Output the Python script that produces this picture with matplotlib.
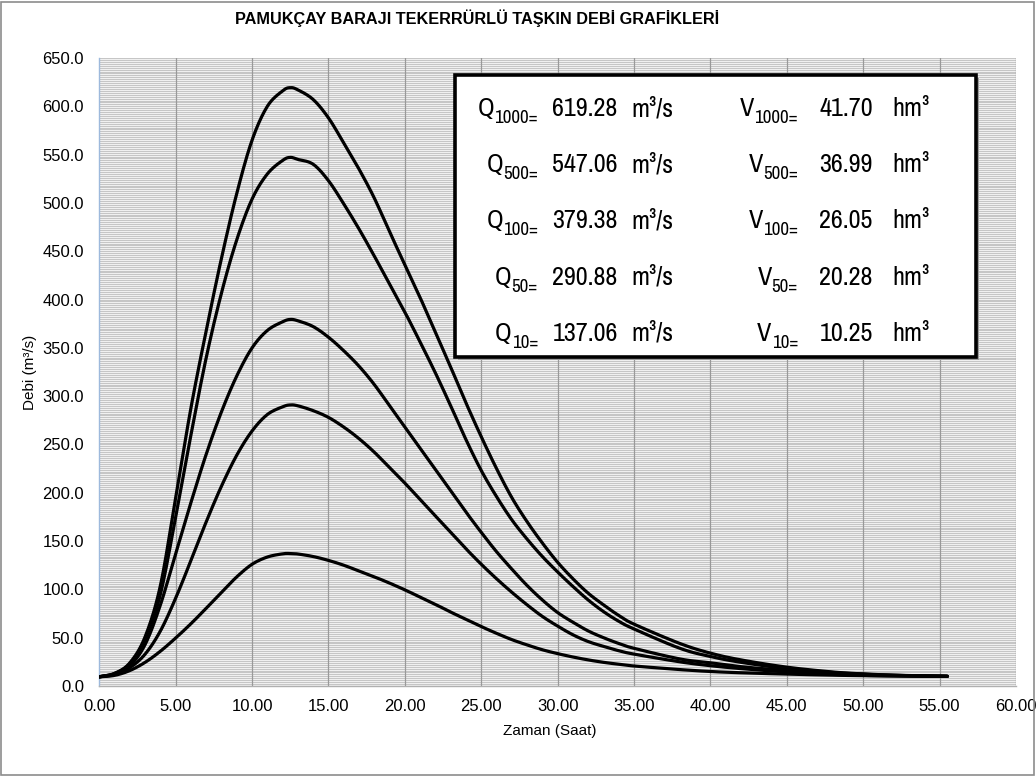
import matplotlib
matplotlib.use("Agg")
import matplotlib.pyplot as plt
from matplotlib import font_manager as fm
from matplotlib.font_manager import FontProperties
from matplotlib.patches import Rectangle
import numpy as np

# ---------------- data ----------------
time_h = [0, 1, 2, 3, 4, 5, 6, 7, 8, 9, 10, 11, 12, 12.5, 13, 14, 15, 16, 17, 18, 19,
          20, 21, 22, 23, 24, 25, 26, 27, 28, 29, 30, 31, 32, 33, 34, 35,
          38, 40, 42, 45, 48, 50, 52, 55.5]

q1000 = [9.5, 13, 24, 51, 104, 195, 288, 368, 443, 510, 565, 600, 616, 619.3, 617, 607, 588,
         562, 535, 505, 470, 436, 402, 366, 330, 293, 258, 225, 195, 170, 148, 128,
         111, 96, 84, 73, 64,
         44, 34, 27, 19.5, 14.5, 12.5, 11.2, 10]
q500 = [9.5, 13, 23, 47, 95, 175, 260, 340, 407, 462, 504, 530, 544, 547.1, 545, 540, 523,
        499, 473, 445, 416, 387, 356, 324, 290, 255, 223, 196, 172, 152, 134, 118,
        103, 89, 77, 67, 59,
        39, 30.5, 24.5, 18, 14, 12.2, 11, 10]
q100 = [9.5, 12.5, 21, 43, 84, 137, 190, 240, 284, 321, 350, 368, 377, 379.4, 378, 372, 361,
        347, 331, 312, 290, 268, 246, 224, 202, 180, 159, 139, 121, 104, 89, 76,
        66, 57, 50, 44, 39,
        28, 24, 20, 16, 13, 12, 11, 10]
q50 = [9.5, 12, 19, 33, 57, 91, 130, 170, 207, 239, 264, 281, 289, 290.9, 290, 285, 278,
       268, 256, 242, 226, 210, 193, 176, 159, 142, 126, 111, 97, 84, 72, 62,
       53, 46, 41, 36.5, 33,
       25, 21, 18, 14.5, 12, 11, 10.5, 10]
q10 = [9.5, 11, 16, 24.5, 36, 49.7, 64.5, 80.5, 97, 113, 126, 133.5, 136.8, 137.1, 136.6, 134, 130,
       125, 119, 113, 106.5, 99.5, 92, 84.5, 76.5, 69, 61.5, 54.5, 48, 42.5, 37.5, 33.5,
       30, 27, 24.5, 22.5, 20.7,
       17, 15, 13.7, 12.3, 11.2, 10.7, 10.3, 10]

series = [q1000, q500, q100, q50, q10]

box_q_sub = ["1000", "500", "100", "50", "10"]
box_q_val = ["619.28", "547.06", "379.38", "290.88", "137.06"]
box_v_val = ["41.70", "36.99", "26.05", "20.28", "10.25"]

title = "PAMUKÇAY BARAJI TEKERRÜRLÜ TAŞKIN DEBİ GRAFİKLERİ"
xlabel = "Zaman (Saat)"
ylabel = "Debi (m³/s)"

# ---------------- fonts ----------------
names = {f.name for f in fm.fontManager.ttflist}
base_font = "Liberation Sans" if "Liberation Sans" in names else "DejaVu Sans"
plt.rcParams["font.family"] = [base_font, "DejaVu Sans"]

stretch_rank = {"ultra-condensed": 0, "extra-condensed": 1, "condensed": 2, "semi-condensed": 3}
cands = []
for f in fm.fontManager.ttflist:
    st = str(f.stretch)
    if st in stretch_rank and f.style == "normal" and f.weight in (400, "normal", "regular", "book"):
        if "CJK" in f.name or "Mono" in f.name or "Serif" in f.name:
            continue
        cands.append((stretch_rank[st], f.name, f.fname))
cands.sort()
if cands:
    box_fp = FontProperties(fname=cands[0][2])
else:
    box_fp = FontProperties(family=base_font)

W, H = 1036, 776
fig = plt.figure(figsize=(W / 100, H / 100), dpi=100)
fig.patch.set_facecolor("white")
renderer = fig.canvas.get_renderer()


def text_width(s, size):
    t = fig.text(0, 0, s, fontproperties=box_fp, fontsize=size)
    w = t.get_window_extent(renderer).width
    t.remove()
    return w


# choose box font size so the numbers are about as wide as in the reference
box_size = 20 * 66 / text_width("619.28", 20)
box_size = min(box_size, 26)
sub_size = box_size * 0.72

# outer chart border
fig.patches.append(Rectangle((1 / W, 1 / H), (W - 3) / W, (H - 3) / H, transform=fig.transFigure,
                             fill=False, edgecolor="#8c8c8c", linewidth=1.2, zorder=0))

ax_l, ax_r, ax_t, ax_b = 99.3, 1016, 58, 686
ax = fig.add_axes([ax_l / W, 1 - ax_b / H, (ax_r - ax_l) / W, (ax_b - ax_t) / H])
ax.set_facecolor("#f0f0f0")
ax.set_xlim(0, 60)
ax.set_ylim(0, 650)

# gridlines
for yv in np.arange(2, 651, 2):
    ax.axhline(yv, color="#bababa", lw=0.55, zorder=1)
for xv in np.arange(5, 61, 5):
    ax.axvline(xv, color="#999999", lw=0.9, zorder=1.5)


def smooth(xs, ys, n=16):
    """Catmull-Rom rendering of the points (like a smoothed spreadsheet line)."""
    x = np.asarray(xs, float)
    y = np.asarray(ys, float)
    px = np.concatenate([[2 * x[0] - x[1]], x, [2 * x[-1] - x[-2]]])
    py = np.concatenate([[2 * y[0] - y[1]], y, [2 * y[-1] - y[-2]]])
    ox, oy = [], []
    tt = np.linspace(0, 1, n, endpoint=False)
    for i in range(1, len(px) - 2):
        for arr, out in ((px, ox), (py, oy)):
            p0, p1, p2, p3 = arr[i - 1], arr[i], arr[i + 1], arr[i + 2]
            out.extend(0.5 * ((2 * p1) + (-p0 + p2) * tt + (2 * p0 - 5 * p1 + 4 * p2 - p3) * tt ** 2
                              + (-p0 + 3 * p1 - 3 * p2 + p3) * tt ** 3))
    ox.append(x[-1])
    oy.append(y[-1])
    return np.array(ox), np.array(oy)


for q in series:
    sx, sy = smooth(time_h, q)
    ax.plot(sx, sy, color="black", lw=2.3, solid_joinstyle="round",
            solid_capstyle="round", zorder=3)

ax.set_xticks(np.arange(0, 61, 5))
ax.set_xticklabels([f"{v:.2f}" for v in np.arange(0, 61, 5)])
ax.set_yticks(np.arange(0, 651, 50))
ax.set_yticklabels([f"{v:.1f}" for v in np.arange(0, 651, 50)])
ax.tick_params(axis="both", length=0, labelsize=12, colors="black")
ax.tick_params(axis="x", pad=9.5)
ax.tick_params(axis="y", pad=11)
for s in ("top", "right"):
    ax.spines[s].set_visible(False)
ax.spines["left"].set_color("#9db9dc")
ax.spines["left"].set_linewidth(1.0)
ax.spines["bottom"].set_color("#b0b0b0")
ax.spines["bottom"].set_linewidth(1.0)

fig.text(477 / W, 1 - 18 / H, title, ha="center", va="center", fontsize=11.7, fontweight="bold")
fig.text(550 / W, 1 - 731 / H, xlabel, ha="center", va="center", fontsize=11)
fig.text(30 / W, 1 - 372 / H, ylabel, ha="center", va="center", fontsize=11, rotation=90)

# ---------------- info box ----------------
bx0, bx1, by0, by1 = 455, 976, 75, 357
fig.patches.append(Rectangle(((bx0 + 3) / W, 1 - (by1 + 3) / H), (bx1 - bx0) / W, (by1 - by0) / H,
                             transform=fig.transFigure, facecolor="#9a9a9a", edgecolor="none",
                             zorder=4))
fig.patches.append(Rectangle((bx0 / W, 1 - by1 / H), (bx1 - bx0) / W, (by1 - by0) / H,
                             transform=fig.transFigure, facecolor="white", edgecolor="black",
                             linewidth=2.6, zorder=5))


def sub_label(x_right, y_base, main, sub):
    ws = text_width(sub, sub_size)
    fig.text(x_right / W, 1 - (y_base + 7) / H, sub, ha="right", va="baseline",
             fontproperties=box_fp, fontsize=sub_size, zorder=6)
    fig.text((x_right - ws) / W, 1 - y_base / H, main, ha="right", va="baseline",
             fontproperties=box_fp, fontsize=box_size, zorder=6)


row_y = [116, 172, 228, 285, 341]  # baseline pixel rows
for i in range(5):
    yb = 1 - row_y[i] / H
    sub_label(538, row_y[i], "Q", box_q_sub[i] + "=")
    fig.text(585 / W, yb, box_q_val[i], ha="center", va="baseline", fontproperties=box_fp,
             fontsize=box_size, zorder=6)
    fig.text(631 / W, yb, "m³/s", ha="left", va="baseline", fontproperties=box_fp,
             fontsize=box_size, zorder=6)
    sub_label(798, row_y[i], "V", box_q_sub[i] + "=")
    fig.text(846 / W, yb, box_v_val[i], ha="center", va="baseline", fontproperties=box_fp,
             fontsize=box_size, zorder=6)
    fig.text(892 / W, yb, "hm³", ha="left", va="baseline", fontproperties=box_fp,
             fontsize=box_size, zorder=6)

fig.savefig("out.png", dpi=100, facecolor="white")
